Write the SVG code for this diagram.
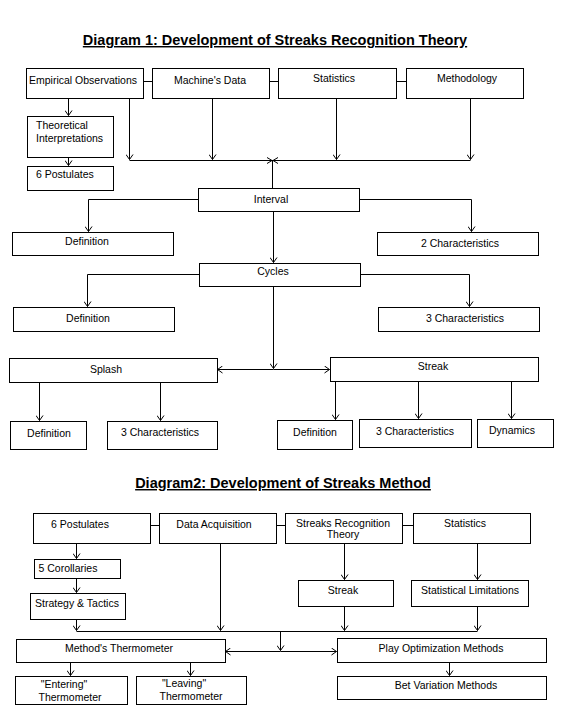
<svg xmlns="http://www.w3.org/2000/svg" width="581" height="727" viewBox="0 0 581 727">
<style>
rect{fill:#fff;stroke:#000;stroke-width:1}
text{font-family:"Liberation Sans",Arial,sans-serif;font-size:10.5px;fill:#000}
.m{text-anchor:middle}
.t{font-size:14.5px;font-weight:bold;text-anchor:middle;text-decoration:underline}
#conn path{fill:none;stroke:#000;stroke-width:1}
</style>
<defs>
<marker id="a" viewBox="-6 -4 7 8" markerWidth="7" markerHeight="8" refX="0" refY="0" orient="auto" markerUnits="userSpaceOnUse">
<path d="M-5,-3.5 L0,0 L-5,3.5" fill="none" stroke="#000" stroke-width="1"/>
</marker>
</defs>
<rect x="0" y="0" width="581" height="727" style="stroke:none"/>
<text class="t" x="275" y="45">Diagram 1: Development of Streaks Recognition Theory</text>
<text class="t" x="283" y="488">Diagram2: Development of Streaks Method</text>

<g id="conn">
<path d="M143,81.5H152M269,81.5H278M396,81.5H406"/>
<path d="M68.5,98V115.5" marker-end="url(#a)"/>
<path d="M68.5,157V165.5" marker-end="url(#a)"/>
<path d="M129.5,98V159.5" marker-end="url(#a)"/>
<path d="M212.5,98V159.5" marker-end="url(#a)"/>
<path d="M336.5,98V159.5" marker-end="url(#a)"/>
<path d="M470.5,98V159.5" marker-end="url(#a)"/>
<path d="M129.5,160.5H470.5"/>
<path d="M272.5,188V160.5"/>
<path d="M267,157.5L272,160.5L267,163.5M278,157.5L273,160.5L278,163.5"/>
<path d="M198,199.5H88.5V231.5" marker-end="url(#a)"/>
<path d="M359,199.5H471.5V231.5" marker-end="url(#a)"/>
<path d="M273.5,211V262.5" marker-end="url(#a)"/>
<path d="M199,274.5H87.5V306.5" marker-end="url(#a)"/>
<path d="M360,274.5H469.5V306.5" marker-end="url(#a)"/>
<path d="M273.5,286V368.5" marker-end="url(#a)"/>
<path d="M273.5,369.5H217.5" marker-end="url(#a)"/>
<path d="M273.5,369.5H329.5" marker-end="url(#a)"/>
<path d="M39.5,382V420.5" marker-end="url(#a)"/>
<path d="M160.5,382V420.5" marker-end="url(#a)"/>
<path d="M335.5,381V419.5" marker-end="url(#a)"/>
<path d="M418.5,381V418.5" marker-end="url(#a)"/>
<path d="M511.5,381V418.5" marker-end="url(#a)"/>

<path d="M150,525.5H159M276,525.5H285M402,525.5H413"/>
<path d="M76.5,543V558.5" marker-end="url(#a)"/>
<path d="M76.5,578V592.5" marker-end="url(#a)"/>
<path d="M76.5,619V630.5" marker-end="url(#a)"/>
<path d="M220.5,543V630.5" marker-end="url(#a)"/>
<path d="M344.5,543V579.5" marker-end="url(#a)"/>
<path d="M344.5,606V630.5" marker-end="url(#a)"/>
<path d="M477.5,543V579.5" marker-end="url(#a)"/>
<path d="M477.5,606V630.5" marker-end="url(#a)"/>
<path d="M76.5,631.5H477.5"/>
<path d="M280.5,631.5V650.5" marker-end="url(#a)"/>
<path d="M280.5,651.5H225.5" marker-end="url(#a)"/>
<path d="M280.5,651.5H336.5" marker-end="url(#a)"/>
<path d="M70.5,662V675.5" marker-end="url(#a)"/>
<path d="M190.5,662V675.5" marker-end="url(#a)"/>
<path d="M449.5,662V675.5" marker-end="url(#a)"/>
</g>

<g id="emp"><rect x="26.5" y="68.5" width="117" height="30"/><text class="m" x="83" y="84">Empirical Observations</text></g>
<g id="mach"><rect x="152.5" y="68.5" width="117" height="30"/><text class="m" x="210" y="84">Machine's Data</text></g>
<g id="stat"><rect x="278.5" y="68.5" width="118" height="30"/><text class="m" x="334" y="82">Statistics</text></g>
<g id="meth"><rect x="406.5" y="68.5" width="117" height="30"/><text class="m" x="467" y="82">Methodology</text></g>
<g id="theo"><rect x="27.5" y="116.5" width="86" height="41"/><text x="36" y="129">Theoretical</text><text x="36" y="142">Interpretations</text></g>
<g id="post"><rect x="27.5" y="166.5" width="86" height="24"/><text x="36" y="178">6 Postulates</text></g>
<g id="interval"><rect x="198.5" y="188.5" width="161" height="23"/><text class="m" x="271" y="203">Interval</text></g>
<g id="def1"><rect x="12.5" y="232.5" width="161" height="23"/><text class="m" x="87" y="245">Definition</text></g>
<g id="char2"><rect x="377.5" y="232.5" width="161" height="23"/><text class="m" x="460" y="247">2 Characteristics</text></g>
<g id="cycles"><rect x="199.5" y="263.5" width="161" height="23"/><text class="m" x="273" y="275">Cycles</text></g>
<g id="def2"><rect x="13.5" y="307.5" width="161" height="24"/><text class="m" x="88" y="322">Definition</text></g>
<g id="char3"><rect x="378.5" y="307.5" width="161" height="24"/><text class="m" x="465" y="322">3 Characteristics</text></g>
<g id="splash"><rect x="9.5" y="358.5" width="208" height="24"/><text class="m" x="106" y="373">Splash</text></g>
<g id="sdef"><rect x="10.5" y="421.5" width="76" height="28"/><text class="m" x="49" y="437">Definition</text></g>
<g id="schar"><rect x="107.5" y="421.5" width="110" height="28"/><text class="m" x="160" y="436">3 Characteristics</text></g>
<g id="streak"><rect x="330.5" y="357.5" width="208" height="24"/><text class="m" x="433" y="370">Streak</text></g>
<g id="tdef"><rect x="277.5" y="420.5" width="75" height="29"/><text class="m" x="315" y="436">Definition</text></g>
<g id="tchar"><rect x="359.5" y="419.5" width="112" height="28"/><text class="m" x="415" y="435">3 Characteristics</text></g>
<g id="dyn"><rect x="477.5" y="419.5" width="76" height="28"/><text class="m" x="512" y="434">Dynamics</text></g>

<g id="p6"><rect x="33.5" y="513.5" width="117" height="30"/><text class="m" x="80" y="528">6 Postulates</text></g>
<g id="da"><rect x="159.5" y="513.5" width="117" height="30"/><text class="m" x="214" y="528">Data Acquisition</text></g>
<g id="srt"><rect x="285.5" y="513.5" width="117" height="30"/><text class="m" x="343" y="527">Streaks Recognition</text><text class="m" x="343" y="538">Theory</text></g>
<g id="st2"><rect x="413.5" y="513.5" width="117" height="30"/><text class="m" x="465" y="527">Statistics</text></g>
<g id="cor"><rect x="34.5" y="559.5" width="86" height="19"/><text class="m" x="68" y="572">5 Corollaries</text></g>
<g id="strat"><rect x="30.5" y="593.5" width="95" height="26"/><text class="m" x="77" y="607">Strategy &amp; Tactics</text></g>
<g id="streak2"><rect x="298.5" y="580.5" width="95" height="26"/><text class="m" x="343" y="594">Streak</text></g>
<g id="slim"><rect x="411.5" y="580.5" width="117" height="26"/><text class="m" x="470" y="594">Statistical Limitations</text></g>
<g id="mt"><rect x="16.5" y="639.5" width="209" height="23"/><text class="m" x="119" y="652">Method's Thermometer</text></g>
<g id="po"><rect x="337.5" y="638.5" width="209" height="24"/><text class="m" x="441" y="652">Play Optimization Methods</text></g>
<g id="ent"><rect x="15.5" y="676.5" width="112" height="28"/><text class="m" x="64" y="688">"Entering"</text><text class="m" x="70" y="701">Thermometer</text></g>
<g id="lev"><rect x="136.5" y="676.5" width="110" height="28"/><text class="m" x="184" y="687">"Leaving"</text><text class="m" x="191" y="700">Thermometer</text></g>
<g id="bv"><rect x="337.5" y="676.5" width="209" height="23"/><text class="m" x="446" y="689">Bet Variation Methods</text></g>
</svg>
